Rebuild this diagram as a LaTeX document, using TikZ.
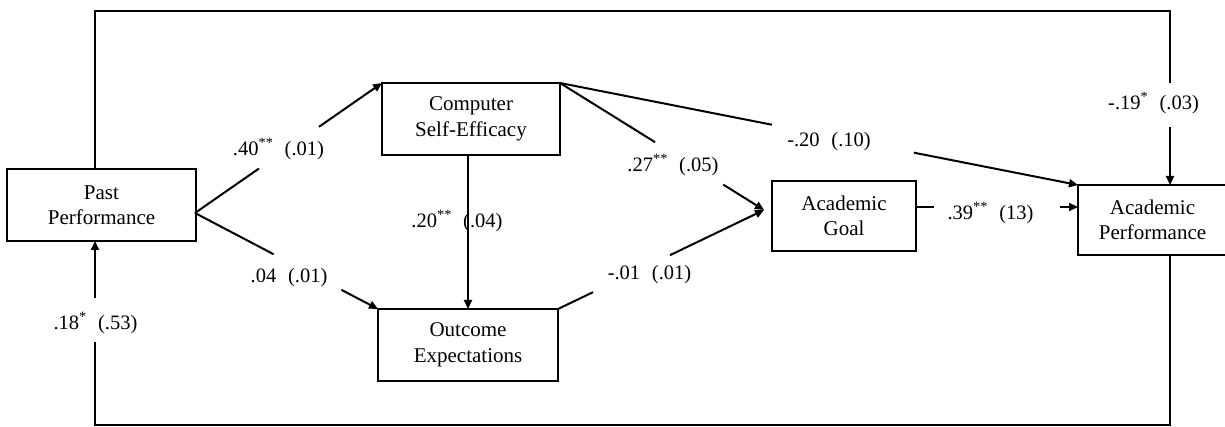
\documentclass[tikz,border=0pt]{standalone}
\usepackage{fontspec}
\setmainfont{Liberation Serif}
\usetikzlibrary{arrows.meta,calc}
\newcommand{\coef}[3]{#1\textsuperscript{#2}\hspace{0.55em}#3}
\begin{document}
\begin{tikzpicture}[x=1pt,y=-1pt,
  box/.style={draw,line width=2pt,align=center,inner sep=0pt,outer sep=0pt,
    font=\fontsize{21}{25.5}\selectfont},
  conn/.style={line width=2pt},
  arr/.style={conn,-{Triangle[length=9pt,width=8pt]}},
  coeflabel/.style={font=\fontsize{20.5}{23}\selectfont,inner sep=0pt}]
\useasboundingbox (0,0) rectangle (1225,427);

% boxes
\node[box,minimum width=189pt,minimum height=72pt] (pp)  at (101.5,205) {Past\\Performance};
\node[box,minimum width=178pt,minimum height=72pt] (cse) at (471,119)   {Computer\\Self-Efficacy};
\node[box,minimum width=180pt,minimum height=72pt] (oe)  at (468,345)   {Outcome\\Expectations};
\node[box,minimum width=144pt,minimum height=70pt] (ag)  at (844,216)   {Academic\\Goal};
\node[box,minimum width=149pt,minimum height=70pt] (ap)  at (1152.5,220) {Academic\\Performance};

% helper coordinates
\coordinate (ppo)  at ($(pp.east)+(-1,8)$);
\coordinate (agin) at ($(ag.west)+(-8,-6)$);
\coordinate (ago)  at ($(ag.east)+(0,-9)$);
\coordinate (api)  at (ap.west |- ago);
\coordinate (tl) at (95,11);
\coordinate (tr) at (1170,11);
\coordinate (bl) at (95,425);
\coordinate (br) at (1170,425);
\coordinate (ppt) at (tl |- pp.north);
\coordinate (ppb) at (bl |- pp.south);
\coordinate (apt) at (tr |- ap.north);
\coordinate (apb) at (br |- ap.south);
\coordinate (cseb) at (oe.north |- cse.south);

% connectors
\draw[conn] (ppo) -- ($(ppo)!0.342!(cse.north west)$);
\draw[arr]  ($(ppo)!0.663!(cse.north west)$) -- (cse.north west);
\draw[conn] (ppo) -- ($(ppo)!0.43!(oe.north west)$);
\draw[arr]  ($(ppo)!0.80!(oe.north west)$) -- (oe.north west);
\draw[arr]  (cseb) -- (oe.north);
\draw[conn] (cse.north east) -- ($(cse.north east)!0.466!(agin)$);
\draw[arr]  ($(cse.north east)!0.80!(agin)$) -- (agin);
\draw[conn] (cse.north east) -- ($(cse.north east)!0.409!(ap.north west)$);
\draw[arr]  ($(cse.north east)!0.683!(ap.north west)$) -- (ap.north west);
\draw[conn] (oe.north east) -- ($(oe.north east)!0.17!(agin)$);
\draw[arr]  ($(oe.north east)!0.544!(agin)$) -- (agin);
\draw[conn] (ago) -- ($(ago)!0.111!(api)$);
\draw[arr]  ($(ago)!0.889!(api)$) -- (api);
\draw[conn] (ppt) -- (tl) -- (tr) -- ($(tr)!0.414!(apt)$);
\draw[arr]  ($(tr)!0.667!(apt)$) -- (apt);
\draw[conn] (apb) -- (br) -- (bl) -- ($(bl)!0.451!(ppb)$);
\draw[arr]  ($(bl)!0.69!(ppb)$) -- (ppb);

% coefficient labels
\node[coeflabel] (l40) at (278.5,149) {\coef{.40}{**}{(.01)}};
\node[coeflabel] (l04) at (289,278)   {\coef{.04}{}{(.01)}};
\node[coeflabel] (l20) at (457,221)   {\coef{.20}{**}{(.04)}};
\node[coeflabel] (l27) at (673,165)   {\coef{.27}{**}{(.05)}};
\node[coeflabel] (lm20) at (829,142)  {\coef{-.20}{}{(.10)}};
\node[coeflabel] (lm01) at (649.5,275) {\coef{-.01}{}{(.01)}};
\node[coeflabel] (l39) at (990.5,213) {\coef{.39}{**}{(13)}};
\node[coeflabel] (lm19) at (1153.5,103) {\coef{-.19}{*}{(.03)}};
\node[coeflabel] (l18) at (95.5,323)  {\coef{.18}{*}{(.53)}};
\end{tikzpicture}
\end{document}
